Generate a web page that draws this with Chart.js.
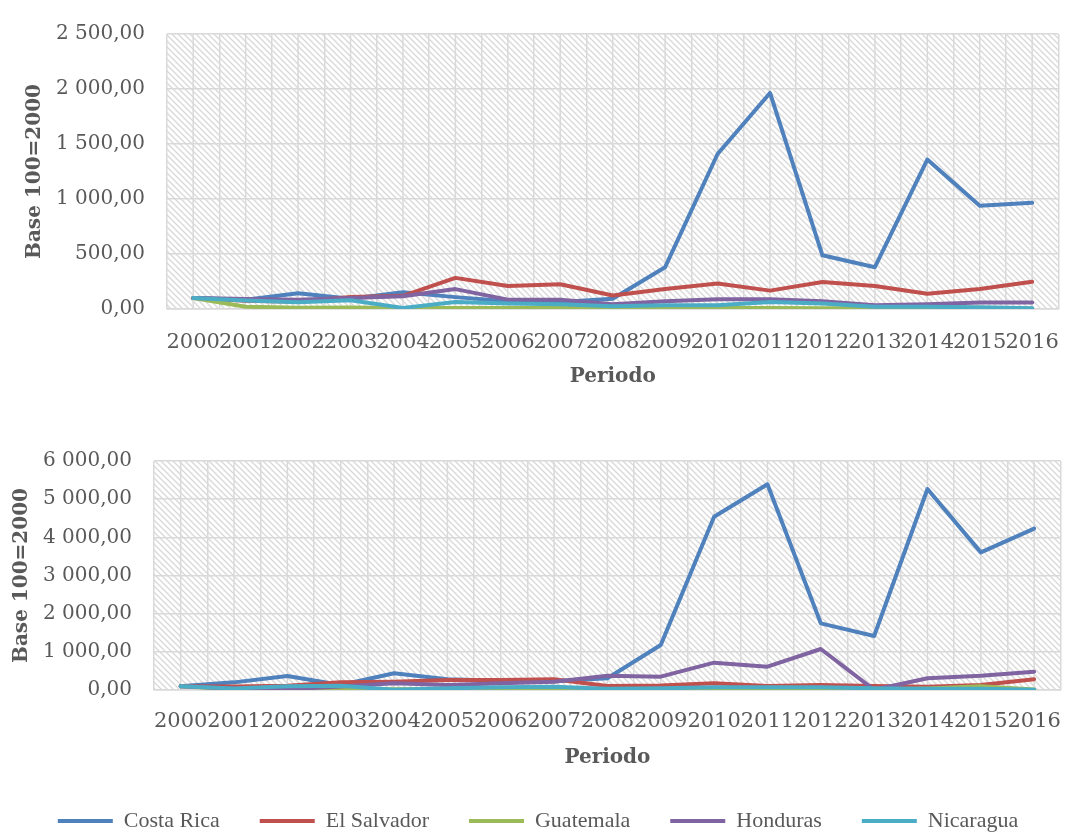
<!DOCTYPE html>
<html>
<head>
<meta charset="utf-8">
<script src="https://cdn.jsdelivr.net/npm/chart.js@4"></script>
<style>
    html, body { margin: 0; padding: 0; background: #ffffff; overflow: hidden; }
    body { width: 1080px; height: 838px; position: relative; }
    canvas { position: absolute; left: 0; }
    #topChart { top: 0; }
    #bottomChart { top: 420px; }
</style>
</head>
<body>
<canvas id="topChart" width="1080" height="400"></canvas>
<canvas id="bottomChart" width="1080" height="422"></canvas>
<script>
// data section
const years = ["2000", "2001", "2002", "2003", "2004", "2005", "2006", "2007", "2008",
    "2009", "2010", "2011", "2012", "2013", "2014", "2015", "2016"];
const countries = ["Costa Rica", "El Salvador", "Guatemala", "Honduras", "Nicaragua"];
const colors = ["#4f81bd", "#c0504d", "#9bbb59", "#8064a2", "#4bacc6"];

// upper chart
const topCostaRica = [100, 85, 143, 94, 152, 108, 70, 64, 94, 380, 1409, 1964, 488, 380, 1359, 938, 965];
const topElSalvador = [100, 75, 65, 110, 120, 283, 210, 225, 123, 181, 231, 167, 246, 210, 138, 181, 248];
const topGuatemala = [100, 20, 12, 14, 10, 10, 9, 9, 8, 8, 8, 8, 7, 6, 5, 5, 5];
const topHonduras = [100, 92, 85, 100, 115, 181, 85, 85, 44, 70, 88, 88, 70, 35, 44, 59, 59];
const topNicaragua = [100, 78, 62, 80, 10, 64, 50, 44, 26, 35, 35, 64, 50, 20, 20, 15, 6];
const topTicks = { max: 2500, step: 500 };

// lower chart
const bottomCostaRica = [100, 200, 366, 131, 437, 280, 245, 230, 306, 1179, 4541, 5389, 1747, 1415, 5266, 3605, 4227];
const bottomElSalvador = [100, 90, 110, 200, 218, 262, 262, 280, 105, 120, 175, 105, 131, 105, 87, 131, 280];
const bottomGuatemala = [100, 20, 10, 30, 20, 25, 25, 30, 20, 20, 30, 30, 30, 10, 40, 100, 10];
const bottomHonduras = [100, 40, 20, 90, 175, 131, 175, 218, 375, 349, 716, 611, 1074, 5, 306, 375, 480];
const bottomNicaragua = [100, 40, 100, 110, 5, 44, 70, 87, 30, 44, 70, 70, 70, 44, 30, 30, 5];
const bottomTicks = { max: 6000, step: 1000 };

const yTitle = "Base 100=2000";
const xTitle = "Periodo";
// end of data section

const textColor = "#595959";
const gridColor = "#d9d9d9";

// "2 500,00" style numbers
function formatNumber(value) {
    const parts = Number(value).toFixed(2).split(".");
    return parts[0].replace(/\B(?=(\d{3})+(?!\d))/g, " ") + "," + parts[1];
}

// hatched plot area
const hatchTile = document.createElement("canvas");
hatchTile.width = 6;
hatchTile.height = 6;
(function () {
    const g = hatchTile.getContext("2d");
    g.fillStyle = "#ffffff";
    g.fillRect(0, 0, 6, 6);
    g.strokeStyle = "#d8d8d8";
    g.lineWidth = 1.3;
    g.beginPath();
    g.moveTo(-1, -1); g.lineTo(7, 7);
    g.moveTo(-1, 5); g.lineTo(1, 7);
    g.moveTo(5, -1); g.lineTo(7, 1);
    g.stroke();
})();

const plotBackground = {
    id: "plotBackground",
    beforeDraw(chart) {
        const { ctx, chartArea } = chart;
        ctx.save();
        ctx.fillStyle = ctx.createPattern(hatchTile, "repeat");
        ctx.fillRect(chartArea.left, chartArea.top, chartArea.right - chartArea.left, chartArea.bottom - chartArea.top);
        ctx.restore();
    },
    // extra vertical gridlines on every category (library draws the ones between)
    beforeDatasetsDraw(chart) {
        const { ctx, chartArea } = chart;
        const xScale = chart.scales.x;
        ctx.save();
        ctx.strokeStyle = gridColor;
        ctx.lineWidth = 1.5;
        ctx.beginPath();
        for (let i = 0; i < years.length; i++) {
            const px = xScale.getPixelForTick(i);
            ctx.moveTo(px, chartArea.top);
            ctx.lineTo(px, chartArea.bottom);
        }
        ctx.stroke();
        ctx.restore();
    },
};

function makeDatasets(seriesList) {
    return seriesList.map((values, i) => ({
        label: countries[i],
        data: values,
        borderColor: colors[i],
        backgroundColor: colors[i],
        borderWidth: 4,
        borderCapStyle: "round",
        borderJoinStyle: "round",
        pointRadius: 0,
        tension: 0,
        order: seriesList.length - i,
    }));
}

function makeConfig(seriesList, ticks, opts) {
    return {
        type: "line",
        data: { labels: years, datasets: makeDatasets(seriesList) },
        plugins: [plotBackground],
        options: {
            responsive: false,
            animation: false,
            layout: { padding: opts.padding },
            scales: {
                x: {
                    offset: true,
                    grid: { offset: true, color: gridColor, lineWidth: 1.5, drawTicks: false },
                    border: { display: true, color: gridColor, width: 1.5 },
                    ticks: {
                        color: textColor,
                        padding: opts.xTickPadding,
                        maxRotation: 0,
                        autoSkip: false,
                        font: { family: "DejaVu Serif", size: 21 },
                    },
                    title: {
                        display: true,
                        text: xTitle,
                        color: textColor,
                        padding: { top: 0, bottom: opts.xTitleBottom },
                        font: { family: "DejaVu Serif", size: 20, weight: "bold" },
                    },
                    afterFit(scale) {
                        scale.height = opts.xHeight;
                    },
                },
                y: {
                    min: 0,
                    max: ticks.max,
                    grid: { color: gridColor, lineWidth: 1.5, drawTicks: false },
                    border: { display: false },
                    ticks: {
                        stepSize: ticks.step,
                        color: textColor,
                        padding: 22,
                        font: { family: "DejaVu Serif", size: 20 },
                        callback: (value) => formatNumber(value),
                    },
                    title: {
                        display: true,
                        text: yTitle,
                        color: textColor,
                        padding: { top: opts.yTitleTop, bottom: 0 },
                        font: { family: "DejaVu Serif", size: 20, weight: "bold" },
                    },
                    afterFit(scale) {
                        scale.width = opts.yWidth;
                    },
                },
            },
            plugins: {
                legend: {
                    display: opts.legend,
                    position: "bottom",
                    labels: {
                        color: textColor,
                        usePointStyle: true,
                        pointStyle: "line",
                        pointStyleWidth: 55,
                        padding: 40,
                        font: { family: "Liberation Serif", size: 22 },
                        sort: (a, b) => a.datasetIndex - b.datasetIndex,
                    },
                },
                tooltip: { enabled: false },
            },
        },
    };
}

new Chart(document.getElementById("topChart"), makeConfig(
    [topCostaRica, topElSalvador, topGuatemala, topHonduras, topNicaragua],
    topTicks,
    {
        padding: { top: 24, right: 3, bottom: 11, left: 0 },
        xHeight: 80, xTickPadding: 21, xTitleBottom: 0,
        yWidth: 167, yTitleTop: 23, legend: false,
    }
));

new Chart(document.getElementById("bottomChart"), makeConfig(
    [bottomCostaRica, bottomElSalvador, bottomGuatemala, bottomHonduras, bottomNicaragua],
    bottomTicks,
    {
        padding: { top: 41, right: 4, bottom: 0, left: 0 },
        xHeight: 80, xTickPadding: 19, xTitleBottom: 0,
        yWidth: 154, yTitleTop: 10, legend: true,
    }
));
</script>
</body>
</html>
